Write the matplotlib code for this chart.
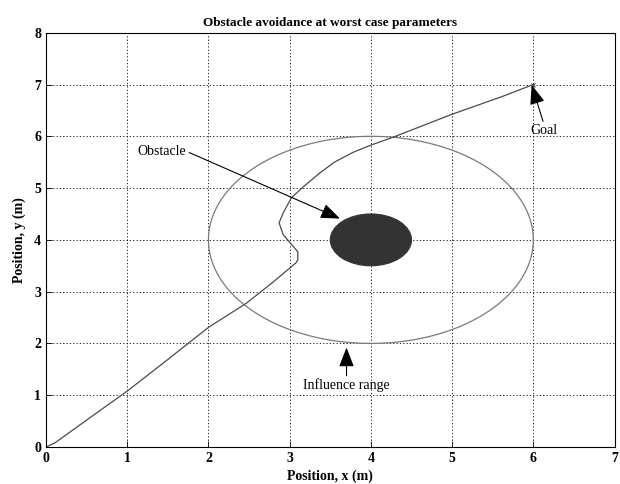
import matplotlib
matplotlib.use("Agg")
import matplotlib.pyplot as plt
import numpy as np
from matplotlib.patches import Circle

plt.rcParams['font.family'] = ['Liberation Serif', 'DejaVu Serif']

# robot path from start (0,0) to the goal
path_x = [0.0, 0.11, 0.5, 1.0, 1.5, 2.0, 2.47, 2.80, 3.08, 3.10, 3.10, 3.03, 2.92,
          2.87, 2.92, 3.02, 3.15, 3.27, 3.37, 3.55, 3.78, 4.00, 4.27, 4.99, 5.62, 6.0]
path_y = [0.0, 0.08, 0.52, 1.08, 1.69, 2.31, 2.78, 3.19, 3.56, 3.61, 3.77, 3.90, 4.10,
          4.33, 4.52, 4.81, 5.00, 5.16, 5.29, 5.50, 5.69, 5.83, 5.98, 6.42, 6.77, 7.0]

obstacle_center = (4.0, 4.0)
obstacle_radius = 0.5
influence_radius = 2.0
goal = (6.0, 7.0)

x_ticks = [0, 1, 2, 3, 4, 5, 6, 7]
y_ticks = [0, 1, 2, 3, 4, 5, 6, 7, 8]

fig = plt.figure(figsize=(6.2, 4.84), dpi=100)
ax = fig.add_axes([0.0742, 0.0764, 0.917, 0.856])

# influence range and obstacle
theta = np.linspace(0, 2 * np.pi, 200)
ax.plot(obstacle_center[0] + influence_radius * np.cos(theta),
        obstacle_center[1] + influence_radius * np.sin(theta),
        color='#7a7a7a', lw=0.9)
ax.add_patch(Circle(obstacle_center, obstacle_radius, facecolor='#333333',
                    edgecolor='#333333', lw=0.8, zorder=3))

ax.plot(path_x, path_y, color='#4a4a4a', lw=0.9)
ax.plot(goal[0], goal[1], marker='x', color='#4a4a4a', ms=3.5, mew=0.8)

arrow = dict(arrowstyle='-|>,head_length=0.85,head_width=0.33', color='black',
             lw=0.8, mutation_scale=14, shrinkA=0, shrinkB=0)

ax.annotate('Obstacle', xy=(3.62, 4.41), xytext=(1.13, 5.71), fontsize=10,
            ha='left', va='center',
            arrowprops=dict(arrow, relpos=(1.0, 0.5)))
ax.annotate('Goal', xy=(5.98, 6.99), xytext=(6.13, 6.11), fontsize=10,
            ha='center', va='center',
            arrowprops=dict(arrow, relpos=(0.5, 1.0)))
ax.annotate('Influence range', xy=(3.70, 1.92), xytext=(3.70, 1.19), fontsize=10,
            ha='center', va='center',
            arrowprops=dict(arrow, relpos=(0.5, 1.0)))

ax.set_xlim(0, 7)
ax.set_ylim(0, 8)
ax.set_xticks(x_ticks)
ax.set_yticks(y_ticks)
ax.grid(True, color='black', linestyle=(0, (1.5, 2.5)), lw=0.6)
ax.tick_params(direction='in', length=4, width=0.6, labelsize=10)
for lab in ax.get_xticklabels() + ax.get_yticklabels():
    lab.set_fontweight('bold')
for sp in ax.spines.values():
    sp.set_linewidth(0.8)

ax.set_title('Obstacle avoidance at worst case parameters', fontsize=9.5,
             fontweight='bold', pad=5)
ax.set_xlabel('Position, x (m)', fontsize=10, fontweight='bold', labelpad=3)
ax.set_ylabel('Position, y (m)', fontsize=10, fontweight='bold', labelpad=6)

fig.savefig('out.png', dpi=100)
